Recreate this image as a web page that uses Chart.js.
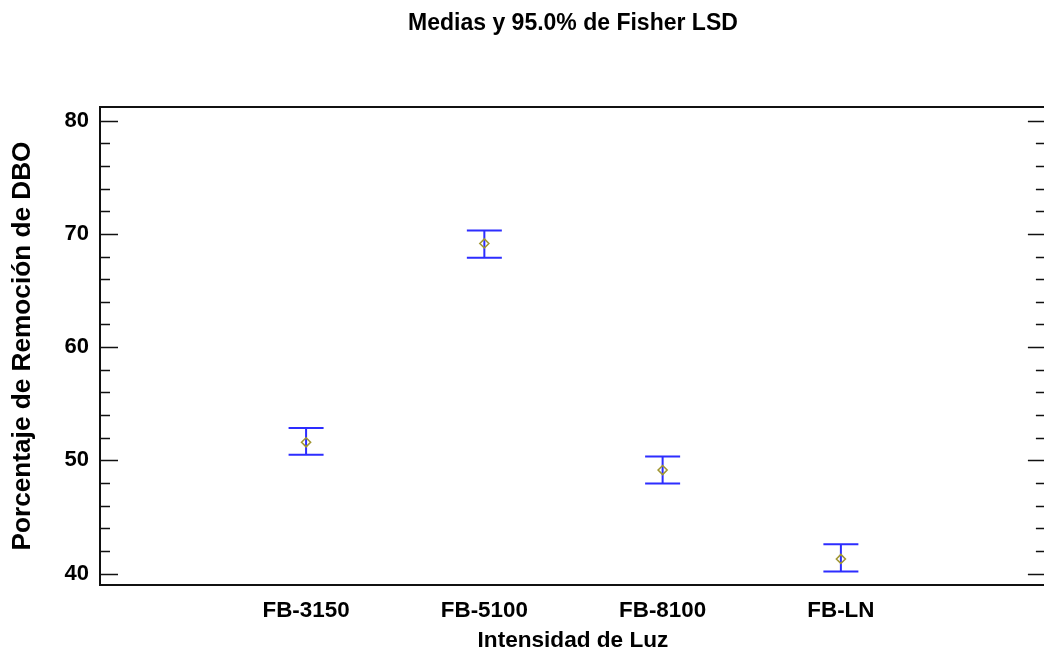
<!DOCTYPE html>
<html>
<head>
<meta charset="utf-8">
<script src="https://cdn.jsdelivr.net/npm/chart.js@4.4.1/dist/chart.umd.min.js"></script>
<style>
  html, body { margin: 0; padding: 0; background: #fff; overflow: hidden; }
  #wrap { width: 1052px; height: 655px; }
</style>
</head>
<body>
<div id="wrap"><canvas id="myChart" width="1052" height="655"></canvas></div>
<script>
const categories = ["FB-3150", "FB-5100", "FB-8100", "FB-LN"];
const means = [51.6, 69.15, 49.15, 41.3];
const lower = [50.5, 67.9, 47.95, 40.2];
const upper = [52.85, 70.3, 50.35, 42.6];
const yTicks = [40, 50, 60, 70, 80];
const yMinorStep = 2;

const fontFamily = "'Liberation Sans', Arial, sans-serif";
const ctx = document.getElementById("myChart").getContext("2d");

// error bars (LSD intervals) drawn under the mean markers
const errorBars = {
  id: "errorBars",
  beforeDatasetsDraw(chart) {
    const { ctx, scales: { x, y } } = chart;
    ctx.save();
    ctx.strokeStyle = "rgb(45, 45, 255)";
    ctx.lineWidth = 2;
    categories.forEach((c, i) => {
      const px = x.getPixelForValue(i + 1);
      const top = y.getPixelForValue(upper[i]);
      const bot = y.getPixelForValue(lower[i]);
      const half = 17.5;
      ctx.beginPath();
      ctx.moveTo(px, top);
      ctx.lineTo(px, bot);
      ctx.moveTo(px - half, top);
      ctx.lineTo(px + half, top);
      ctx.moveTo(px - half, bot);
      ctx.lineTo(px + half, bot);
      ctx.stroke();
    });
    ctx.restore();
  },
};

// box round the plot and inward ticks on both sides
const frame = {
  id: "frame",
  afterDraw(chart) {
    const { ctx, chartArea: { left, right, top, bottom }, scales: { y } } = chart;
    ctx.save();
    ctx.strokeStyle = "#111";
    ctx.lineWidth = 2;
    ctx.beginPath();
    ctx.moveTo(left, top);
    ctx.lineTo(right, top);
    ctx.lineTo(right, bottom);
    ctx.lineTo(left, bottom);
    ctx.closePath();
    ctx.stroke();

    ctx.lineWidth = 1.5;
    ctx.beginPath();
    for (let v = yTicks[0]; v <= yTicks[yTicks.length - 1]; v += yMinorStep) {
      const py = Math.round(y.getPixelForValue(v)) + 0.5;
      const len = v % 10 === 0 ? 18 : 10;
      ctx.moveTo(left, py);
      ctx.lineTo(left + len, py);
      ctx.moveTo(right, py);
      ctx.lineTo(right - len, py);
    }
    ctx.stroke();
    ctx.restore();
  },
};

const myChart = new Chart(ctx, {
  type: "scatter",
  data: {
    datasets: [
      {
        label: "Media",
        data: means.map((m, i) => ({ x: i + 1, y: m })),
        pointStyle: "rectRot",
        pointRadius: 4.5,
        pointBorderWidth: 1.6,
        borderColor: "rgb(160, 150, 50)",
        backgroundColor: "rgba(0,0,0,0)",
      },
    ],
  },
  options: {
    responsive: false,
    animation: false,
    events: [],
    layout: { padding: { left: 0, right: 2, top: 0, bottom: 0 } },
    plugins: {
      legend: { display: false },
      tooltip: { enabled: false },
      title: {
        display: true,
        fullSize: false,
        text: "Medias y 95.0% de Fisher LSD",
        color: "#000",
        font: { family: fontFamily, size: 23, weight: "bold" },
        padding: { top: 10, bottom: 69.4 },
      },
    },
    scales: {
      x: {
        type: "linear",
        min: -0.156,
        max: 5.15,
        afterBuildTicks: (scale) => {
          scale.ticks = categories.map((c, i) => ({ value: i + 1 }));
        },
        afterFit: (scale) => {
          scale.height = 70;
        },
        ticks: {
          callback: (v) => categories[v - 1],
          color: "#000",
          font: { family: fontFamily, size: 22.4, weight: "bold" },
          padding: 12,
          maxRotation: 0,
        },
        grid: { display: false, drawTicks: false },
        border: { display: false },
        title: {
          display: true,
          text: "Intensidad de Luz",
          color: "#000",
          font: { family: fontFamily, size: 22.6, weight: "bold" },
          padding: { top: 1, bottom: 1 },
        },
      },
      y: {
        min: 39,
        max: 81.2,
        afterBuildTicks: (scale) => {
          scale.ticks = yTicks.map((v) => ({ value: v }));
        },
        afterFit: (scale) => {
          scale.width = 100;
        },
        ticks: {
          color: "#000",
          font: { family: fontFamily, size: 22, weight: "bold" },
          padding: 11,
        },
        grid: { display: false, drawTicks: false },
        border: { display: false },
        title: {
          display: true,
          text: "Porcentaje de Remoción de DBO",
          color: "#000",
          font: { family: fontFamily, size: 26.2, weight: "bold" },
          padding: { top: 7, bottom: 0 },
        },
      },
    },
  },
  plugins: [errorBars, frame],
});
</script>
</body>
</html>
